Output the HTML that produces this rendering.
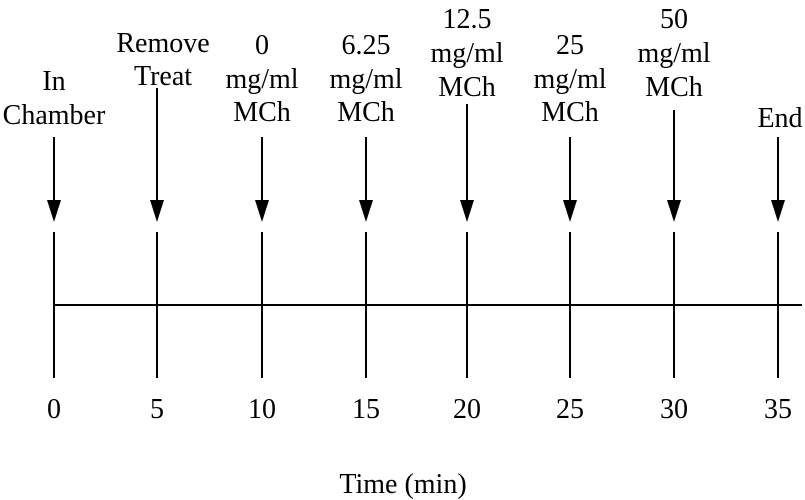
<!DOCTYPE html>
<html><head><style>body{margin:0;background:#fff}svg{display:block}</style></head><body>
<svg width="805" height="500" xmlns="http://www.w3.org/2000/svg" font-family="Liberation Serif, serif" font-size="28" text-anchor="middle" fill="#000">
<g stroke="#000" stroke-width="2">
<line x1="54" y1="305" x2="802" y2="305"/>
<line x1="54" y1="232" x2="54" y2="378"/>
<line x1="157" y1="232" x2="157" y2="378"/>
<line x1="262" y1="232" x2="262" y2="378"/>
<line x1="366" y1="232" x2="366" y2="378"/>
<line x1="467" y1="232" x2="467" y2="378"/>
<line x1="570" y1="232" x2="570" y2="378"/>
<line x1="674" y1="232" x2="674" y2="378"/>
<line x1="778" y1="232" x2="778" y2="378"/>
<line x1="54" y1="137" x2="54" y2="205"/>
<line x1="157" y1="88" x2="157" y2="205"/>
<line x1="262" y1="137" x2="262" y2="205"/>
<line x1="366" y1="137" x2="366" y2="205"/>
<line x1="467" y1="104" x2="467" y2="205"/>
<line x1="570" y1="137" x2="570" y2="205"/>
<line x1="674" y1="110" x2="674" y2="205"/>
<line x1="778" y1="137" x2="778" y2="205"/>
</g>
<g stroke="none">
<polygon points="47,200 61,200 54,222"/>
<polygon points="150,200 164,200 157,222"/>
<polygon points="255,200 269,200 262,222"/>
<polygon points="359,200 373,200 366,222"/>
<polygon points="460,200 474,200 467,222"/>
<polygon points="563,200 577,200 570,222"/>
<polygon points="667,200 681,200 674,222"/>
<polygon points="771,200 785,200 778,222"/>
</g>
<text x="54" y="90">In</text><text x="54" y="124">Chamber</text>
<text x="163" y="52">Remove</text><text x="163" y="85">Treat</text>
<text x="262" y="54">0</text><text x="262" y="88">mg/ml</text><text x="262" y="121">MCh</text>
<text x="366" y="54">6.25</text><text x="366" y="88">mg/ml</text><text x="366" y="121">MCh</text>
<text x="467" y="28">12.5</text><text x="467" y="62">mg/ml</text><text x="467" y="96">MCh</text>
<text x="570" y="54">25</text><text x="570" y="88">mg/ml</text><text x="570" y="121">MCh</text>
<text x="674" y="28">50</text><text x="674" y="62">mg/ml</text><text x="674" y="96">MCh</text>
<text x="780" y="127">End</text>
<text x="54" y="418">0</text><text x="157" y="418">5</text><text x="262" y="418">10</text><text x="366" y="418">15</text>
<text x="467" y="418">20</text><text x="570" y="418">25</text><text x="674" y="418">30</text><text x="778" y="418">35</text>
<text x="403" y="493">Time (min)</text>
</svg>
</body></html>
